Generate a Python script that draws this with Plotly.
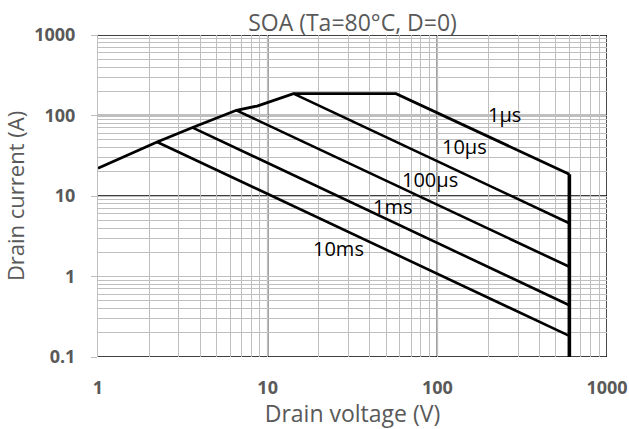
import math
import plotly.graph_objects as go

# Safe operating area boundary (Vds in V, Id in A)
boundary_v = [1, 2.23, 3.61, 6.54, 8.66, 11.4, 14.2, 57.1, 600]
boundary_i = [22.1, 46.9, 70.8, 116, 131, 159, 187, 187, 18.6]

# Breakdown voltage limit
vmax_v = [600, 600]
vmax_i = [18.6, 0.1]

# Pulse-width limited lines: start and end points
pulse_names = ["10µs", "100µs", "1ms", "10ms"]
pulse_v = [[14.2, 600], [6.54, 600], [3.61, 600], [2.23, 600]]
pulse_i = [[187, 4.59], [116, 1.32], [70.8, 0.44], [46.9, 0.183]]

# Curve labels
label_text = ["1µs", "10µs", "100µs", "1ms", "10ms"]
label_v = [249, 145.5, 90.4, 54.1, 26.2]
label_i = [103.5, 41.8, 16.1, 7.45, 2.23]

x_ticks = [1, 10, 100, 1000]
y_ticks = [0.1, 1, 10, 100, 1000]
minor_x = [m * 10 ** d for d in range(0, 3) for m in range(2, 10)]
minor_y = [m * 10 ** d for d in range(-1, 3) for m in range(2, 10)]

GRID = "#bfbfbf"
TEXT = "#595959"
FONT = "Open Sans"

fig = go.Figure()
fig.add_trace(go.Scatter(x=boundary_v, y=boundary_i, mode="lines",
                         line=dict(color="black", width=2.8), showlegend=False))
fig.add_trace(go.Scatter(x=vmax_v, y=vmax_i, mode="lines",
                         line=dict(color="black", width=3.6), showlegend=False))
for name, xv, yv in zip(pulse_names, pulse_v, pulse_i):
    fig.add_trace(go.Scatter(x=xv, y=yv, mode="lines", name=name,
                             line=dict(color="black", width=2.6), showlegend=False))

# Annotations on log axes are positioned in log10 units
for t, xv, yv in zip(label_text, label_v, label_i):
    fig.add_annotation(x=math.log10(xv), y=math.log10(yv), xref="x", yref="y",
                       text=t, showarrow=False,
                       font=dict(family=FONT, size=20, color="black"))

# Dark decade lines
for xv in [10, 100, 1000]:
    fig.add_shape(type="line", xref="x", yref="paper", x0=xv, x1=xv, y0=0, y1=1,
                  line=dict(color="black", width=1.4), layer="between")
for yv in [0.1, 10, 100, 1000]:
    fig.add_shape(type="line", xref="paper", yref="y", x0=0, x1=1, y0=yv, y1=yv,
                  line=dict(color="black", width=1.4), layer="between")

fig.update_layout(
    width=629, height=429,
    margin=dict(l=98, r=22, t=35, b=72),
    paper_bgcolor="white", plot_bgcolor="white",
    title=dict(text="SOA (Ta=80°C, D=0)", x=0.5, xref="paper", xanchor="center",
               y=1 - 23 / 429, yref="container", yanchor="middle",
               font=dict(family=FONT, size=23, color=TEXT)),
    xaxis=dict(type="log", range=[0, 3], tickvals=x_ticks,
               ticktext=[str(v) for v in x_ticks], automargin=False,
               showgrid=True, gridcolor=GRID, gridwidth=1,
               minor=dict(tickvals=minor_x, showgrid=True, gridcolor=GRID, gridwidth=1),
               ticks="", ticklabelstandoff=18,
               tickfont=dict(family=FONT, size=18, color=TEXT, weight="bold"),
               title=dict(text="Drain voltage (V)", standoff=13,
                          font=dict(family=FONT, size=23, color=TEXT)),
               zeroline=False, showline=False),
    yaxis=dict(type="log", range=[-1, 3], tickvals=y_ticks,
               ticktext=["0.1", "1", "10", "100", "1000"], automargin=False,
               showgrid=True, gridcolor=GRID, gridwidth=1,
               minor=dict(tickvals=minor_y, showgrid=True, gridcolor=GRID, gridwidth=1),
               ticks="outside", ticklen=6, tickcolor=GRID, ticklabelstandoff=12,
               tickfont=dict(family=FONT, size=18, color=TEXT, weight="bold"),
               title=dict(text="Drain current (A)", standoff=3,
                          font=dict(family=FONT, size=22, color=TEXT)),
               showline=True, linecolor=GRID, linewidth=1, zeroline=False),
)

fig.write_html("out.html")
